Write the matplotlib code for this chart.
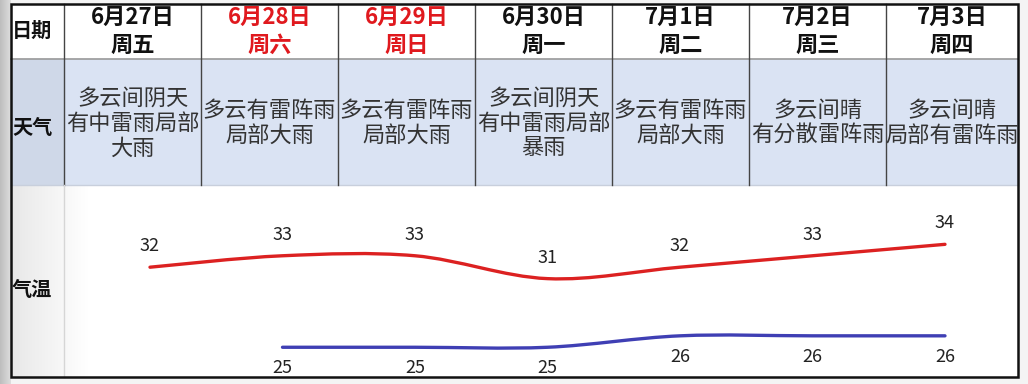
import numpy as np
import matplotlib
matplotlib.use("Agg")
import matplotlib.pyplot as plt
from matplotlib.path import Path
from matplotlib.patches import PathPatch, Rectangle

plt.rcParams['font.family'] = ['Noto Sans CJK SC', 'DejaVu Sans']

# ---- data ----
dates = ['6月27日', '6月28日', '6月29日', '6月30日', '7月1日', '7月2日', '7月3日']
weekdays = ['周五', '周六', '周日', '周一', '周二', '周三', '周四']
weekend = [False, True, True, False, False, False, False]
weather = [
    ['多云间阴天', '有中雷雨局部', '大雨'],
    ['多云有雷阵雨', '局部大雨'],
    ['多云有雷阵雨', '局部大雨'],
    ['多云间阴天', '有中雷雨局部', '暴雨'],
    ['多云有雷阵雨', '局部大雨'],
    ['多云间晴', '有分散雷阵雨'],
    ['多云间晴', '局部有雷阵雨'],
]
high = [32, 33, 33, 31, 32, 33, 34]
low = [None, 25, 25, 25, 26, 26, 26]
row_labels = ['日期', '天气', '气温']

W, H = 1028, 384
col_edges = [64, 201, 338, 475, 612, 749, 886, 1018]
left, right, top, bottom = 11, 1018, 4, 377
row1, row2 = 59, 185


def smooth_path(xs, ys):
    # Catmull-Rom style cubic Bezier through the points
    n = len(xs)
    verts = [(xs[0], ys[0])]
    codes = [Path.MOVETO]
    for i in range(n - 1):
        a = max(i - 1, 0)
        b = min(i + 2, n - 1)
        c1 = (xs[i] + (xs[i + 1] - xs[a]) / 6, ys[i] + (ys[i + 1] - ys[a]) / 6)
        c2 = (xs[i + 1] - (xs[b] - xs[i]) / 6, ys[i + 1] - (ys[b] - ys[i]) / 6)
        verts += [c1, c2, (xs[i + 1], ys[i + 1])]
        codes += [Path.CURVE4] * 3
    return Path(verts, codes)


fig = plt.figure(figsize=(W / 100, H / 100), dpi=100)
fig.patch.set_facecolor('#f4f4f4')
bg = fig.add_axes([0, 0, 1, 1])
bg.set_xlim(0, W)
bg.set_ylim(H, 0)
bg.axis('off')

# left grey strip
grad = np.linspace(0, 1, 50).reshape(1, -1)
bg.imshow(grad, extent=(0, left, H, 0), cmap=matplotlib.colors.LinearSegmentedColormap.from_list(
    'g', ['#bdbdbd', '#dedede']), aspect='auto', zorder=0)

# cells backgrounds
bg.add_patch(Rectangle((left, top), right - left, row1 - top, color='white', zorder=1))
bg.add_patch(Rectangle((left, row1), right - left, row2 - row1, color='#dae3f3', zorder=1))
bg.add_patch(Rectangle((left, row1), col_edges[0] - left, row2 - row1, color='#cfd8e8', zorder=1))
bg.add_patch(Rectangle((left, row2 + 1), right - left, bottom - row2 - 1, color='white', zorder=1))
bg.imshow(grad, extent=(left, col_edges[0] + 25, bottom, row2 + 1),
          cmap=matplotlib.colors.LinearSegmentedColormap.from_list('g2', ['#e8e8e8', '#ffffff']),
          aspect='auto', zorder=1.5)

# grid lines
bg.plot([left, right], [row1, row1], color='#9a9a9a', lw=1.2, zorder=2)
bg.plot([left, right], [row2, row2], color='#c8cfdc', lw=1.0, zorder=2)
for x in col_edges[:-1]:
    bg.plot([x, x], [top, row2], color='#444444', lw=1.0, zorder=2)
bg.plot([col_edges[0], col_edges[0]], [row2, bottom], color='#d6d6d6', lw=1.0, zorder=2)
bg.add_patch(Rectangle((left, top), right - left, bottom - top, fill=False,
                       edgecolor='#111111', lw=1.8, zorder=5))

# row labels
label_y = [30, 128, 290]
for lab, y in zip(row_labels, label_y):
    bg.text(left + 1, y, lab, ha='left', va='center', fontsize=14.5,
            fontweight='bold', color='#111111', zorder=4)

# header and weather text
for i in range(len(dates)):
    cx = (col_edges[i] + col_edges[i + 1]) / 2
    c = '#e0191e' if weekend[i] else '#111111'
    bg.text(cx, 17, dates[i], ha='center', va='center', fontsize=16,
            fontweight='bold', color=c, zorder=4)
    bg.text(cx, 45, weekdays[i], ha='center', va='center', fontsize=16,
            fontweight='bold', color=c, zorder=4)
    lines = weather[i]
    y0 = 123 - (len(lines) - 1) * 25 / 2
    for k, ln in enumerate(lines):
        t = bg.text(cx, y0 + k * 25, ln, ha='center', va='center', fontsize=16,
                    color='#333333', zorder=4)
        t.set_clip_path(Rectangle((left, top), right - left, bottom - top,
                                  transform=bg.transData))

# temperature chart
ax = fig.add_axes([col_edges[0] / W, (H - bottom) / H,
                   (right - col_edges[0]) / W, (bottom - row2 - 1) / H])
ax.patch.set_alpha(0)
ax.axis('off')
ax.set_xlim(-0.649, 6.551)
ax.set_ylim(22.4, 39.1)

hx = list(range(len(high)))
ax.add_patch(PathPatch(smooth_path(hx, high), fill=False, edgecolor='#dc2121',
                       lw=2.4, capstyle='round', zorder=3))
lx = [i for i, v in enumerate(low) if v is not None]
lv = [v for v in low if v is not None]
ax.add_patch(PathPatch(smooth_path(lx, lv), fill=False, edgecolor='#3f3fb4',
                       lw=2.4, capstyle='round', zorder=3))

for i, v in zip(hx, high):
    ax.annotate(str(v), (i, v), xytext=(0, 15), textcoords='offset points',
                ha='center', va='center', fontsize=13, color='#222222')
for i, v in zip(lx, lv):
    ax.annotate(str(v), (i, v), xytext=(0, -15), textcoords='offset points',
                ha='center', va='center', fontsize=13, color='#222222')

fig.savefig('out.png', dpi=100)
